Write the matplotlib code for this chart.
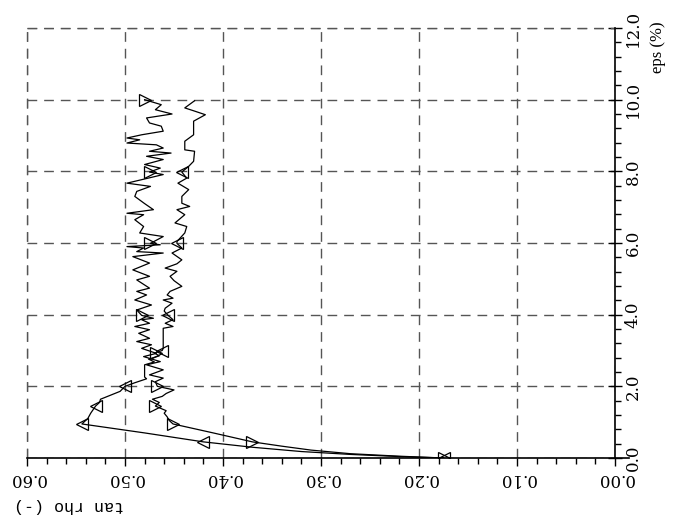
import matplotlib
matplotlib.use("Agg")
import matplotlib.pyplot as plt
from matplotlib.ticker import MultipleLocator, FormatStrFormatter

plt.rcParams["font.family"] = "DejaVu Serif"
plt.rcParams["font.size"] = 11

# curve with left-pointing markers (peak, then softening)
eps_a = [0.0, 0.04, 0.1, 0.18, 0.3, 0.45, 0.7, 0.95, 1.1, 1.25, 1.45, 1.55, 1.64, 1.75, 1.86,
         2.0, 2.1, 2.21, 2.26, 2.6, 2.68, 2.76, 2.85, 2.93, 3.0, 3.06, 3.62, 3.67, 3.76, 3.86,
         3.98, 4.1, 4.18, 4.32, 4.41, 4.46, 4.55, 4.65, 4.79, 4.95, 5.07, 5.21, 5.3, 5.42,
         5.53, 5.72, 5.86, 5.99, 6.04, 6.28, 6.46, 6.56, 6.79, 6.93, 7.02, 7.11, 7.3, 7.49,
         7.67, 7.81, 7.98, 8.14, 8.28, 8.56, 8.6, 8.84, 9.02, 9.4, 9.58, 9.69, 9.77, 9.97]
tan_a = [0.175, 0.22, 0.27, 0.32, 0.37, 0.42, 0.48, 0.544, 0.538, 0.535, 0.53, 0.526, 0.525,
         0.515, 0.505, 0.50, 0.49, 0.478, 0.48, 0.48, 0.47, 0.476, 0.465, 0.47, 0.462, 0.461,
         0.461, 0.451, 0.459, 0.451, 0.456, 0.46, 0.459, 0.452, 0.461, 0.451, 0.457, 0.454,
         0.442, 0.45, 0.454, 0.447, 0.459, 0.447, 0.442, 0.452, 0.442, 0.447, 0.447, 0.439,
         0.437, 0.449, 0.439, 0.447, 0.434, 0.442, 0.442, 0.435, 0.446, 0.437, 0.442, 0.435,
         0.43, 0.429, 0.439, 0.439, 0.43, 0.43, 0.418, 0.43, 0.439, 0.429]
marks_a = [0.0, 0.45, 0.95, 1.45, 2.0, 3.0, 3.98, 5.99, 7.98]

# curve with right-pointing markers (hardening)
eps_b = [0.0, 0.05, 0.12, 0.22, 0.33, 0.45, 0.7, 0.95, 1.05, 1.15, 1.25, 1.32, 1.45, 1.55,
         1.64, 1.72, 1.8, 1.9, 2.0, 2.13, 2.23, 2.32, 2.46, 2.6, 2.69, 2.83, 2.92, 3.06, 3.16,
         3.25, 3.34, 3.48, 3.58, 3.67, 3.76, 3.86, 3.9, 3.98, 4.13, 4.27, 4.41, 4.55, 4.65,
         4.74, 4.97, 5.07, 5.25, 5.44, 5.62, 5.72, 5.76, 5.86, 5.9, 5.95, 5.99, 6.18, 6.28,
         6.46, 6.65, 6.79, 6.83, 6.93, 7.1, 7.3, 7.44, 7.58, 7.67, 7.91, 7.98, 8.09, 8.19,
         8.33, 8.42, 8.51, 8.56, 8.65, 8.74, 8.79, 8.88, 8.93, 9.02, 9.12, 9.26, 9.35, 9.49,
         9.6, 9.72, 9.86, 10.0]
tan_b = [0.175, 0.22, 0.27, 0.31, 0.34, 0.37, 0.41, 0.451, 0.455, 0.457, 0.46, 0.458, 0.469,
         0.465, 0.472, 0.462, 0.458, 0.45, 0.467, 0.469, 0.461, 0.475, 0.461, 0.478, 0.464,
         0.481, 0.468, 0.483, 0.473, 0.488, 0.475, 0.486, 0.475, 0.49, 0.475, 0.483, 0.471,
         0.483, 0.488, 0.473, 0.49, 0.478, 0.488, 0.475, 0.488, 0.475, 0.492, 0.475, 0.492,
         0.461, 0.488, 0.481, 0.498, 0.464, 0.474, 0.461, 0.485, 0.481, 0.49, 0.481, 0.498,
         0.471, 0.48, 0.49, 0.488, 0.474, 0.498, 0.461, 0.475, 0.464, 0.48, 0.461, 0.478,
         0.453, 0.475, 0.461, 0.468, 0.498, 0.485, 0.498, 0.483, 0.461, 0.463, 0.475, 0.478,
         0.452, 0.469, 0.463, 0.48]
marks_b = [0.0, 0.45, 0.95, 1.45, 2.0, 2.92, 3.98, 5.99, 7.98, 10.0]

fig = plt.figure(figsize=(6.78, 5.23), dpi=100)
ax = fig.add_axes([27 / 678, 65 / 523, 588 / 678, 430 / 523])

ax.plot(tan_a, eps_a, color="black", lw=0.9, marker="<", ms=9, mfc="none", mew=0.9,
        markevery=[eps_a.index(e) for e in marks_a])
ax.plot(tan_b, eps_b, color="black", lw=0.9, marker=">", ms=9, mfc="none", mew=0.9,
        markevery=[eps_b.index(e) for e in marks_b])

ax.set_xlim(0.6, 0.0)
ax.set_ylim(0.0, 12.0)

for side in ("top", "left"):
    ax.spines[side].set_visible(False)
for side in ("bottom", "right"):
    ax.spines[side].set_linewidth(1.2)
# bottom axis line runs a little past the eps axis
ax.plot([0.0, -0.014], [0.0, 0.0], color="black", lw=1.2, clip_on=False)

ax.xaxis.set_major_locator(MultipleLocator(0.1))
ax.xaxis.set_minor_locator(MultipleLocator(0.02))
ax.yaxis.set_major_locator(MultipleLocator(2.0))
ax.yaxis.set_minor_locator(MultipleLocator(0.4))
ax.xaxis.set_major_formatter(FormatStrFormatter("%.2f"))
ax.yaxis.set_major_formatter(FormatStrFormatter("%.1f"))

ax.yaxis.tick_right()
ax.tick_params(axis="x", which="major", direction="out", length=6, width=1, labelrotation=180,
               labelsize=12, pad=3)
ax.tick_params(axis="x", which="minor", direction="out", length=4, width=1)
ax.tick_params(axis="y", which="major", direction="inout", length=10, width=1, labelrotation=90,
               labelsize=12, pad=2)
ax.tick_params(axis="y", which="minor", direction="out", length=4, width=1)
for lab in ax.get_yticklabels():
    lab.set_verticalalignment("center")

grid_style = dict(color="#555555", lw=1.0, linestyle=(0, (7, 5)))
ax.grid(True, which="major", **grid_style)
# grid lines on the open edges (left and top)
ax.axvline(0.6, clip_on=False, **grid_style)
ax.axhline(12.0, clip_on=False, **grid_style)

fig.text(0.97, 1 - 47 / 523, "eps (%)", rotation=90, ha="center", va="center",
         fontsize=12, family="Liberation Serif")
fig.text(0.02, 1 - 505 / 523, "tan rho (-)", rotation=180, ha="left", va="center",
         fontsize=12, family="Liberation Mono")

fig.savefig("out.png", dpi=100)
